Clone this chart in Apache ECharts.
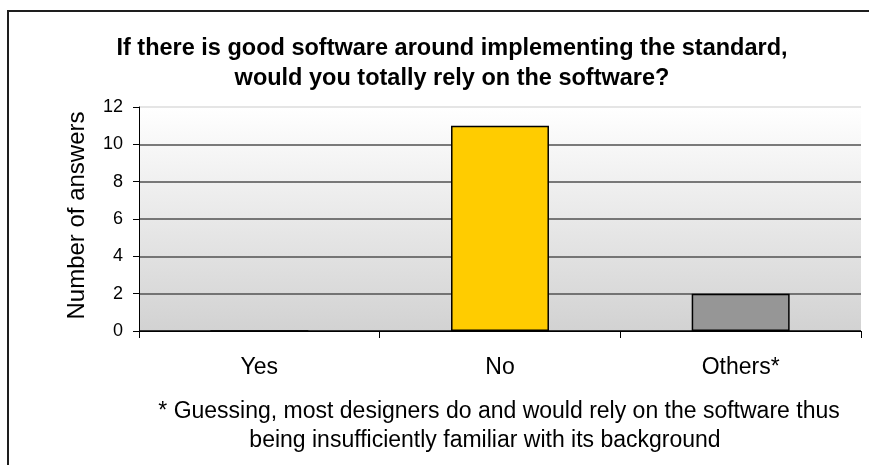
<!DOCTYPE html>
<html>
<head>
<meta charset="utf-8">
<script src="https://cdn.jsdelivr.net/npm/echarts@6/dist/echarts.min.js"></script>
<style>
  html, body { margin: 0; padding: 0; background: #fff; }
  #chart { width: 869px; height: 465px; }
</style>
</head>
<body>
<div id="chart"></div>
<script>
// Survey answers per option
const categories = ['Yes', 'No', 'Others*'];
const answers = [0, 11, 2];
const barColors = ['#ffcc00', '#ffcc00', '#969696'];

const titleLines = [
  'If there is good software around implementing the standard,',
  'would you totally rely on the software?'
];
const footnoteLines = [
  '* Guessing, most designers do and would rely on the software thus',
  'being insufficiently familiar with its background'
];

const FONT = 'Arial, "Liberation Sans", sans-serif';

const chart = echarts.init(document.getElementById('chart'), null, { renderer: 'canvas' });

chart.setOption({
  animation: false,
  backgroundColor: '#ffffff',
  title: {
    text: titleLines.join('\n'),
    left: 447,
    top: 29,
    textAlign: 'center',
    textStyle: {
      fontFamily: FONT,
      fontWeight: 'bold',
      fontSize: 23.5,
      lineHeight: 30,
      color: '#000'
    }
  },
  grid: {
    left: 139,
    right: 8,
    top: 107,
    bottom: 134,
    show: true,
    borderWidth: 0,
    backgroundColor: new echarts.graphic.LinearGradient(0, 0, 0, 1, [
      { offset: 0, color: '#ffffff' },
      { offset: 1, color: '#d2d2d2' }
    ])
  },
  xAxis: {
    type: 'category',
    data: categories,
    boundaryGap: true,
    axisLine: { show: true, lineStyle: { color: '#000', width: 1 } },
    axisTick: { show: true, length: 7, lineStyle: { color: '#000' } },
    axisLabel: {
      margin: 25,
      fontFamily: FONT,
      fontSize: 23,
      color: '#000'
    },
    splitLine: { show: false }
  },
  yAxis: {
    type: 'value',
    min: 0,
    max: 12,
    interval: 2,
    name: 'Number of answers',
    nameLocation: 'middle',
    nameGap: 50,
    nameTextStyle: {
      fontFamily: FONT,
      fontSize: 24,
      color: '#000',
      padding: [0, 0, 0, 7]
    },
    axisLine: { show: true, lineStyle: { color: '#000', width: 1 } },
    axisTick: { show: true, length: 6, lineStyle: { color: '#000' } },
    axisLabel: {
      margin: 16,
      fontFamily: FONT,
      fontSize: 18,
      color: '#000'
    },
    splitLine: {
      show: true,
      lineStyle: {
        color: ['#000', '#505050', '#505050', '#505050', '#505050', '#505050', '#dcdcdc'],
        width: 1.5
      }
    }
  },
  series: [{
    type: 'bar',
    barWidth: '40.7%',
    data: answers.map((v, i) => ({
      value: v,
      itemStyle: { color: barColors[i], borderColor: '#000', borderWidth: 1.5 }
    }))
  }],
  graphic: [
    {
      type: 'rect',
      shape: { x: 8, y: 11, width: 900, height: 500 },
      style: { fill: 'none', stroke: '#1e1e1e', lineWidth: 2 },
      silent: true
    },
    {
      type: 'text',
      x: 499,
      y: 412,
      style: {
        text: footnoteLines[0],
        fontFamily: FONT,
        fontSize: 23,
        fill: '#000',
        align: 'center',
        verticalAlign: 'middle'
      }
    },
    {
      type: 'text',
      x: 485,
      y: 441,
      style: {
        text: footnoteLines[1],
        fontFamily: FONT,
        fontSize: 23,
        fill: '#000',
        align: 'center',
        verticalAlign: 'middle'
      }
    }
  ]
});
</script>
</body>
</html>
